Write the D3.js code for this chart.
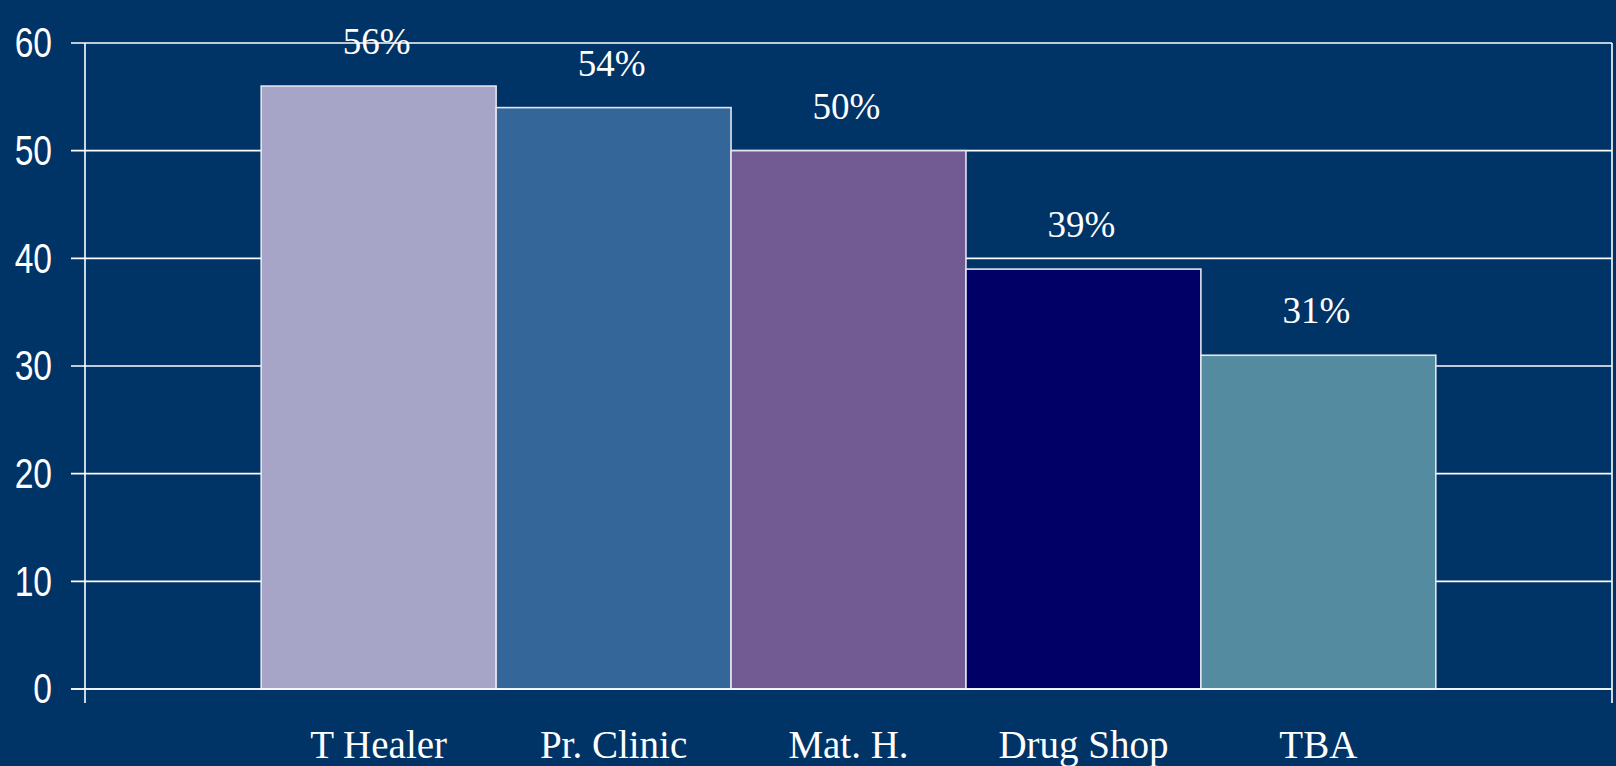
<!DOCTYPE html>
<html>
<head>
<meta charset="utf-8">
<script src="https://cdn.jsdelivr.net/npm/d3@7"></script>
<style>
  html, body { margin: 0; padding: 0; background: #003366; }
  svg { display: block; }
</style>
</head>
<body>
<svg id="chart" width="1616" height="766"></svg>
<script>
const categories = ["T Healer", "Pr. Clinic", "Mat. H.", "Drug Shop", "TBA"];
const values = [56, 54, 50, 39, 31];
const valueLabels = ["56%", "54%", "50%", "39%", "31%"];
const barColors = ["#A6A5C8", "#346699", "#715B92", "#000066", "#558BA0"];
const yTicks = [0, 10, 20, 30, 40, 50, 60];

(function () {
const W = 1616, H = 766;
const mLeft = 85, mRight = 1612, mTop = 43, mBottom = 689;

const svg = d3.select("#chart");
svg.append("rect").attr("width", W).attr("height", H).attr("fill", "#003366");

const x = d3.scaleBand().domain(categories).range([mLeft, mRight]).paddingInner(0).paddingOuter(0.75);
const y = d3.scaleLinear().domain([0, 60]).range([mBottom, mTop]);

// gridlines + y tick marks
svg.append("g").selectAll("line").data(yTicks).join("line")
  .attr("x1", mLeft - 14).attr("x2", mRight)
  .attr("y1", d => y(d)).attr("y2", d => y(d))
  .attr("stroke", "#ffffff").attr("stroke-width", 1.6);

// y axis line and right border
svg.append("line").attr("x1", mLeft).attr("x2", mLeft).attr("y1", y(60)).attr("y2", mBottom + 14)
  .attr("stroke", "#ffffff").attr("stroke-width", 1.6);
svg.append("line").attr("x1", mRight).attr("x2", mRight).attr("y1", y(60)).attr("y2", mBottom + 14)
  .attr("stroke", "#ffffff").attr("stroke-width", 1.6);

// y tick labels (condensed look)
const yl = svg.append("g").selectAll("g").data(yTicks).join("g")
  .attr("transform", d => `translate(52,${y(d)}) scale(0.8,1)`);
yl.append("text")
  .attr("x", 0).attr("y", 0)
  .attr("text-anchor", "end").attr("dominant-baseline", "central")
  .attr("fill", "#ffffff")
  .style("font-family", "'Liberation Sans', Arial, sans-serif")
  .style("font-size", "42px")
  .text(d => d);

// bars
svg.append("g").selectAll("rect").data(values).join("rect")
  .attr("x", (d, i) => x(categories[i]))
  .attr("y", d => y(d))
  .attr("width", x.bandwidth())
  .attr("height", d => mBottom - y(d))
  .attr("fill", (d, i) => barColors[i])
  .attr("stroke", "#E4E4EE").attr("stroke-width", 1.6);

// baseline over bars
svg.append("line").attr("x1", mLeft - 14).attr("x2", mRight).attr("y1", mBottom).attr("y2", mBottom)
  .attr("stroke", "#ffffff").attr("stroke-width", 1.6);

// value labels
svg.append("g").selectAll("text").data(values).join("text")
  .attr("x", (d, i) => x(categories[i]) + x.bandwidth() / 2 - 2)
  .attr("y", d => y(d) - 32)
  .attr("text-anchor", "middle")
  .attr("fill", "#ffffff")
  .style("font-family", "'Liberation Serif', 'Times New Roman', serif")
  .style("font-size", "37px")
  .text((d, i) => valueLabels[i]);

// category labels
svg.append("g").selectAll("text").data(categories).join("text")
  .attr("x", d => x(d) + x.bandwidth() / 2)
  .attr("y", 758)
  .attr("text-anchor", "middle")
  .attr("fill", "#ffffff")
  .style("font-family", "'Liberation Serif', 'Times New Roman', serif")
  .style("font-size", "39px")
  .text(d => d);
})();
</script>
</body>
</html>
